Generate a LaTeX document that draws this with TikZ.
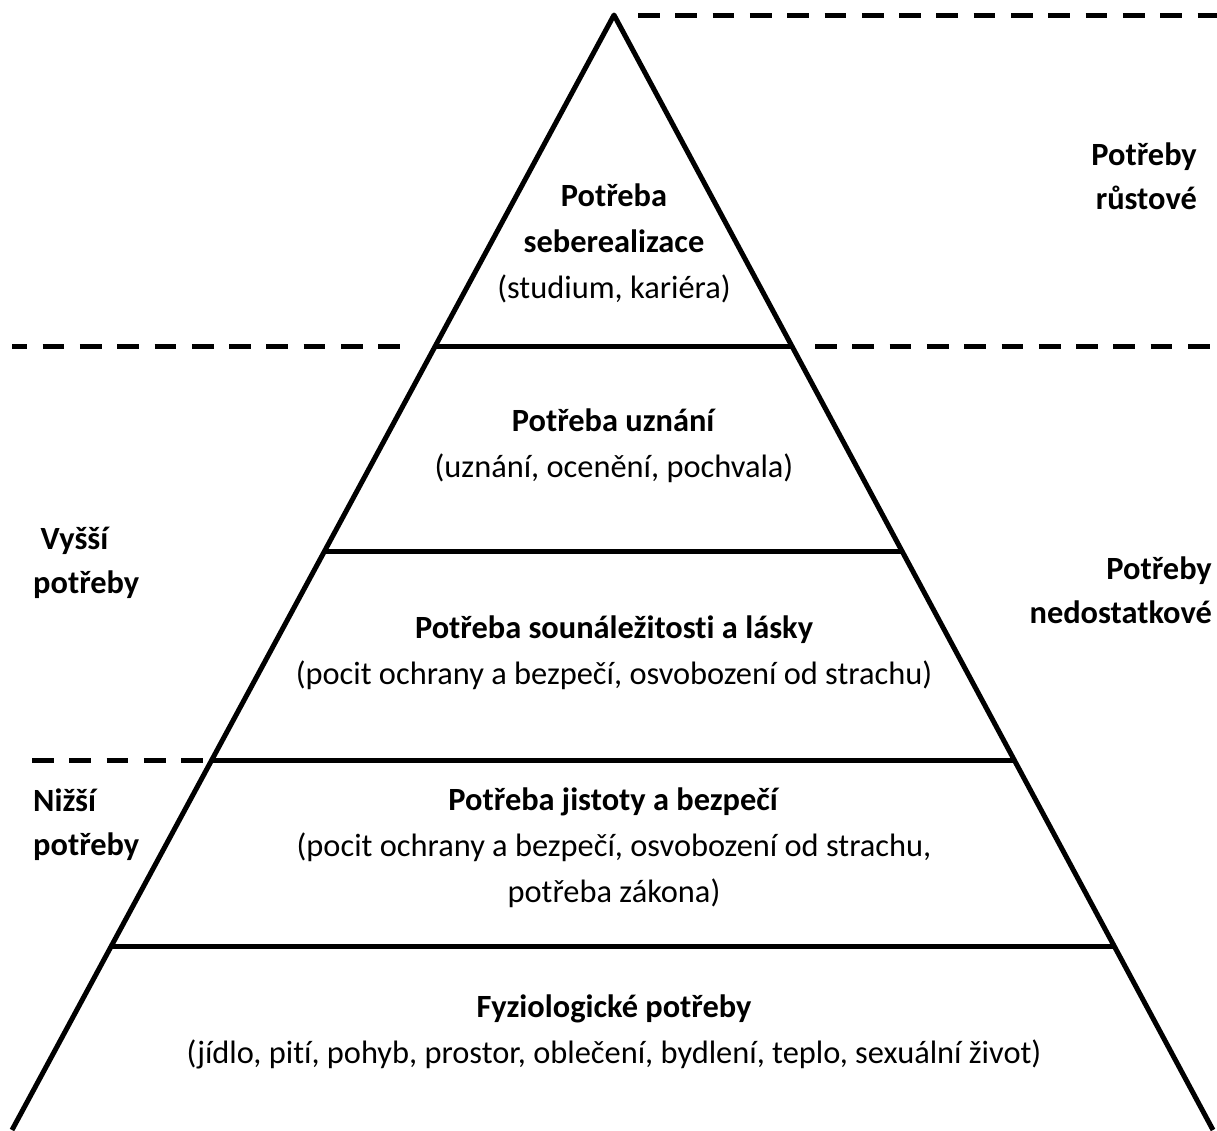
\documentclass[tikz,border=0pt]{standalone}
\usepackage{fontspec}
\setmainfont{Carlito}[Ligatures=NoCommon]
\usetikzlibrary{calc}
\tikzset{
  level/.style={align=center, inner sep=0pt, font=\fontsize{32.4}{46}\selectfont},
  side/.style={inner sep=0pt, font=\fontsize{32.4}{44}\selectfont\bfseries},
  edge/.style={line width=5pt},
  divider/.style={line width=5pt, dash pattern=on 21.7pt off 15.6pt},
}
\begin{document}
\begin{tikzpicture}[x=1pt,y=-1pt,line join=round]
	\useasboundingbox (0,0) rectangle (1217,1130);
	%vrchol a zakladna pyramidy
	\coordinate (top) at (614,15);
	\coordinate (bl) at (12,1130);
	\coordinate (br) at (1213,1130);
	\draw[edge] (bl) -- (top) -- (br);
	%hranice pater
	\foreach \t in {0.2969,0.4816,0.6682,0.835}
	\draw[edge] ($(top)!\t!(bl)$) -- ($(top)!\t!(br)$);
	%prerusovane cary
	\draw[divider] (638,15) -- (1217,15);
	\draw[divider,dash phase=6.7pt] (12,346) -- (400,346);
	\draw[divider] (815,346) -- (1217,346);
	\draw[divider] (32,760) -- (203,760);
	%texty v patrech
	\node[level] (sebe) at (614,243) {\textbf{Potřeba}\\\textbf{seberealizace}\\(studium, kariéra)};
	\node[level] (uzn) at (614,446) {\textbf{Potřeba uznání}\\(uznání, ocenění, pochvala)};
	\node[level] (lasky) at (614,653) {\textbf{Potřeba sounáležitosti a lásky}\\(pocit ochrany a bezpečí, osvobození od strachu)};
	\node[level] (jist) at (614,848) {\textbf{Potřeba jistoty a bezpečí}\\(pocit ochrany a bezpečí, osvobození od strachu,\\potřeba zákona)};
	\node[level] (fyz) at (614,1032) {\textbf{Fyziologické potřeby}\\(jídlo, pití, pohyb, prostor, oblečení, bydlení, teplo, sexuální život)};
	%popisky po stranach
	\node[side,align=right,anchor=east] (rust) at (1197,176) {Potřeby\\růstové};
	\node[side,align=right,anchor=east] (nedost) at (1212,590) {Potřeby\\nedostatkové};
	\node[side,align=left,anchor=west] (vyssi) at (33,563) {\hspace*{0.23em}Vyšší\\potřeby};
	\node[side,align=left,anchor=west] (nizsi) at (33,825) {Nižší\\potřeby};
\end{tikzpicture}
\end{document}
